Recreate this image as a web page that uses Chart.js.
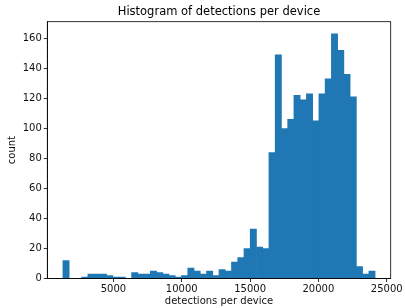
<!DOCTYPE html>
<html>
<head>
<meta charset="utf-8">
<script src="https://cdn.jsdelivr.net/npm/chart.js@4/dist/chart.umd.min.js"></script>
<style>
  html, body { margin: 0; padding: 0; background: #fff; }
  canvas { display: block; }
</style>
</head>
<body>
<canvas id="c" width="405" height="308"></canvas>
<script>
// Histogram: 50 equal bins between binMin and binMax
const binMin = 1300;
const binMax = 24150;
const binCount = 50;
const counts = [12, 0, 0, 1, 3, 3, 3, 2, 1, 1,
                0, 4, 3, 3, 5, 4, 3, 2, 1, 2,
                7, 5, 3, 5, 2, 6, 5, 11, 14, 20,
                33, 21, 20, 84, 149, 100, 106, 122, 119, 123,
                105, 123, 133, 163, 152, 136, 121, 8, 3, 5];
const xTicks = [5000, 10000, 15000, 20000, 25000];
const yTicks = [0, 20, 40, 60, 80, 100, 120, 140, 160];
const titleText = 'Histogram of detections per device';
const xLabel = 'detections per device';
const yLabel = 'count';

const binWidth = (binMax - binMin) / binCount;
const points = counts.map((c, i) => ({ x: binMin + (i + 0.5) * binWidth, y: c }));
const pad = 0.05 * (binMax - binMin);
const yMax = Math.max(...counts) * 1.05;

const FONT = 'DejaVu Sans';
const TXT = '#111';

const framePlugin = {
  id: 'frame',
  afterDraw(chart) {
    const { ctx, chartArea: a } = chart;
    ctx.save();
    ctx.strokeStyle = '#000';
    ctx.lineWidth = 0.8;
    ctx.strokeRect(a.left, a.top, a.right - a.left, a.bottom - a.top);
    ctx.fillStyle = '#000';
    ctx.font = '11.5px "' + FONT + '"';
    ctx.textAlign = 'center';
    ctx.textBaseline = 'alphabetic';
    ctx.fillText(titleText, (a.left + a.right) / 2, a.top - 7);
    ctx.restore();
  }
};

new Chart(document.getElementById('c'), {
  type: 'bar',
  data: {
    datasets: [{
      data: points,
      backgroundColor: '#1f77b4',
      borderWidth: 0,
      barPercentage: 1.0,
      categoryPercentage: 1.0,
      grouped: false
    }]
  },
  options: {
    responsive: false,
    animation: false,
    devicePixelRatio: 1,
    layout: { padding: { top: 21.7, right: 14.3, left: 0, bottom: 0 } },
    plugins: { legend: { display: false }, tooltip: { enabled: false }, title: { display: false } },
    scales: {
      x: {
        type: 'linear',
        offset: false,
        min: binMin - pad,
        max: binMax + pad,
        afterBuildTicks: s => { s.ticks = xTicks.map(v => ({ value: v })); },
        afterFit: s => { s.height = 29.5; },
        grid: { display: true, offset: false, drawOnChartArea: false, tickLength: 3.5, tickColor: '#000', tickWidth: 0.8 },
        border: { display: true, color: '#000', width: 0.8 },
        ticks: { color: TXT, font: { family: FONT, size: 10 }, padding: 1, maxRotation: 0, autoSkip: false,
                 callback: v => String(v) },
        title: { display: true, text: xLabel, color: TXT, font: { family: FONT, size: 10 }, padding: { top: 0, bottom: 1 } }
      },
      y: {
        min: 0,
        max: yMax,
        afterBuildTicks: s => { s.ticks = yTicks.map(v => ({ value: v })); },
        afterFit: s => { s.width = 47.3; },
        grid: { display: true, drawOnChartArea: false, tickLength: 3.5, tickColor: '#000', tickWidth: 0.8 },
        border: { display: true, color: '#000', width: 0.8 },
        ticks: { color: TXT, font: { family: FONT, size: 10 }, padding: 2, autoSkip: false,
                 callback: v => String(v) },
        title: { display: true, text: yLabel, color: TXT, font: { family: FONT, size: 10 }, padding: { top: 6, bottom: 0 } }
      }
    }
  },
  plugins: [framePlugin]
});
</script>
</body>
</html>
